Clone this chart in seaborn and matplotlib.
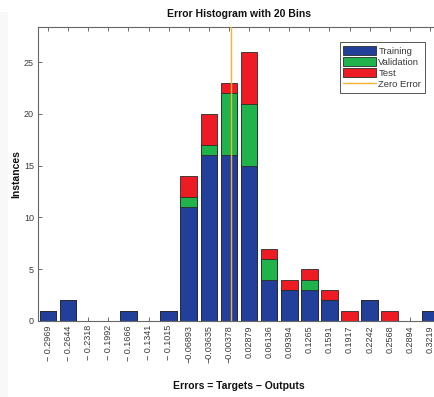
import numpy as np
import pandas as pd
import matplotlib
matplotlib.use("Agg")
import matplotlib.pyplot as plt
import seaborn as sns
from matplotlib.patches import Patch, Rectangle
from matplotlib.lines import Line2D

# Bin centres of the error histogram (20 bins)
bin_centers = [-0.2969, -0.2644, -0.2318, -0.1992, -0.1666, -0.1341, -0.1015,
               -0.06893, -0.03635, -0.00378, 0.02879, 0.06136, 0.09394, 0.1265,
               0.1591, 0.1917, 0.2242, 0.2568, 0.2894, 0.3219]
tick_labels = ["\u2212 0.2969", "\u2212 0.2644", "\u2212 0.2318", "\u2212 0.1992",
               "\u2212 0.1666", "\u2212 0.1341", "\u2212 0.1015", "\u22120.06893",
               "\u22120.03635", "\u22120.00378", "0.02879", "0.06136", "0.09394",
               "0.1265", "0.1591", "0.1917", "0.2242", "0.2568", "0.2894", "0.3219"]

# Instance counts per bin for each data split
training   = [1, 2, 0, 0, 1, 0, 1, 11, 16, 16, 15, 4, 3, 3, 2, 0, 2, 0, 0, 1]
validation = [0, 0, 0, 0, 0, 0, 0, 1, 1, 6, 6, 2, 0, 1, 0, 0, 0, 0, 0, 0]
test       = [0, 0, 0, 0, 0, 0, 0, 2, 3, 1, 5, 1, 1, 1, 1, 1, 0, 1, 0, 0]

C_TRAIN = "#22409a"
C_VAL = "#20b24b"
C_TEST = "#ed1c24"
C_ZERO = "#f5b335"
EDGE = "#2a2a2a"
TXT = "#3a3a3a"

sns.set_theme(style="white")
plt.rcParams["font.family"] = ["Liberation Sans", "DejaVu Sans"]

df = pd.DataFrame({"bin": tick_labels, "Training": training,
                   "Validation": validation, "Test": test})
df["tv"] = df["Training"] + df["Validation"]
df["total"] = df["tv"] + df["Test"]

W, H = 435, 397
fig = plt.figure(figsize=(W / 100, H / 100), dpi=100)
fig.patch.set_facecolor("white")
fig.patches.append(Rectangle((0, 0), 8 / W, 1 - 12 / H, transform=fig.transFigure,
                             facecolor="#f8f8f8", edgecolor="none", zorder=-10))

ax = fig.add_axes([38 / W, 76 / H, 402 / W, 294 / H])

# Stacked bars: draw the cumulative heights back to front
for col, c in [("total", C_TEST), ("tv", C_VAL), ("Training", C_TRAIN)]:
    sns.barplot(data=df, x="bin", y=col, order=tick_labels, color=c, saturation=1,
                width=0.83, edgecolor=EDGE, linewidth=0.6, ax=ax, zorder=2)

# Zero-error reference line, placed on the categorical axis from the bin centres
zero_pos = np.interp(0.0, bin_centers, np.arange(len(bin_centers)))
ax.axvline(zero_pos, color=C_ZERO, lw=1.0, zorder=5)

ax.set_xlim(-0.5, len(bin_centers) - 0.5)
ax.set_ylim(0, 28.4)
ax.set_yticks([0, 5, 10, 15, 20, 25])
ax.set_xticks(np.arange(len(bin_centers)))
ax.set_xticklabels(tick_labels, rotation=90, fontsize=6.5, color=TXT)
ax.tick_params(axis="y", labelsize=6.5, labelcolor=TXT)
ax.tick_params(direction="in", length=3, width=0.6, color="#555555",
               top=True, bottom=True, left=True, right=True, pad=3)
for s in ax.spines.values():
    s.set_color("#666666")
    s.set_linewidth(0.8)

ax.set_xlabel("Errors = Targets \u2212 Outputs", fontsize=7.5, fontweight="bold",
              color="#111111", labelpad=13)
ax.set_ylabel("Instances", fontsize=7.5, fontweight="bold", color="#111111", labelpad=2)
fig.text(239 / W, 1 - 14 / H, "Error Histogram with 20 Bins", ha="center", va="center",
         fontsize=7.5, fontweight="bold", color="#111111")

handles = [Patch(facecolor=C_TRAIN, edgecolor=EDGE, lw=0.6, label="Training"),
           Patch(facecolor=C_VAL, edgecolor=EDGE, lw=0.6, label="Validation"),
           Patch(facecolor=C_TEST, edgecolor=EDGE, lw=0.6, label="Test"),
           Line2D([], [], color=C_ZERO, lw=1.0, label="Zero Error")]
leg = ax.legend(handles=handles, loc="upper right",
                bbox_to_anchor=(425 / W, 1 - 42 / H), bbox_transform=fig.transFigure,
                fontsize=6.8, frameon=True, fancybox=False, framealpha=1,
                handlelength=3.4, handleheight=1.1, handletextpad=0.3,
                labelspacing=0.15, borderpad=0.4, borderaxespad=0)
leg.get_frame().set_edgecolor("#555555")
leg.get_frame().set_linewidth(0.7)
for t in leg.get_texts():
    t.set_color(TXT)

fig.savefig("out.png", dpi=100)
